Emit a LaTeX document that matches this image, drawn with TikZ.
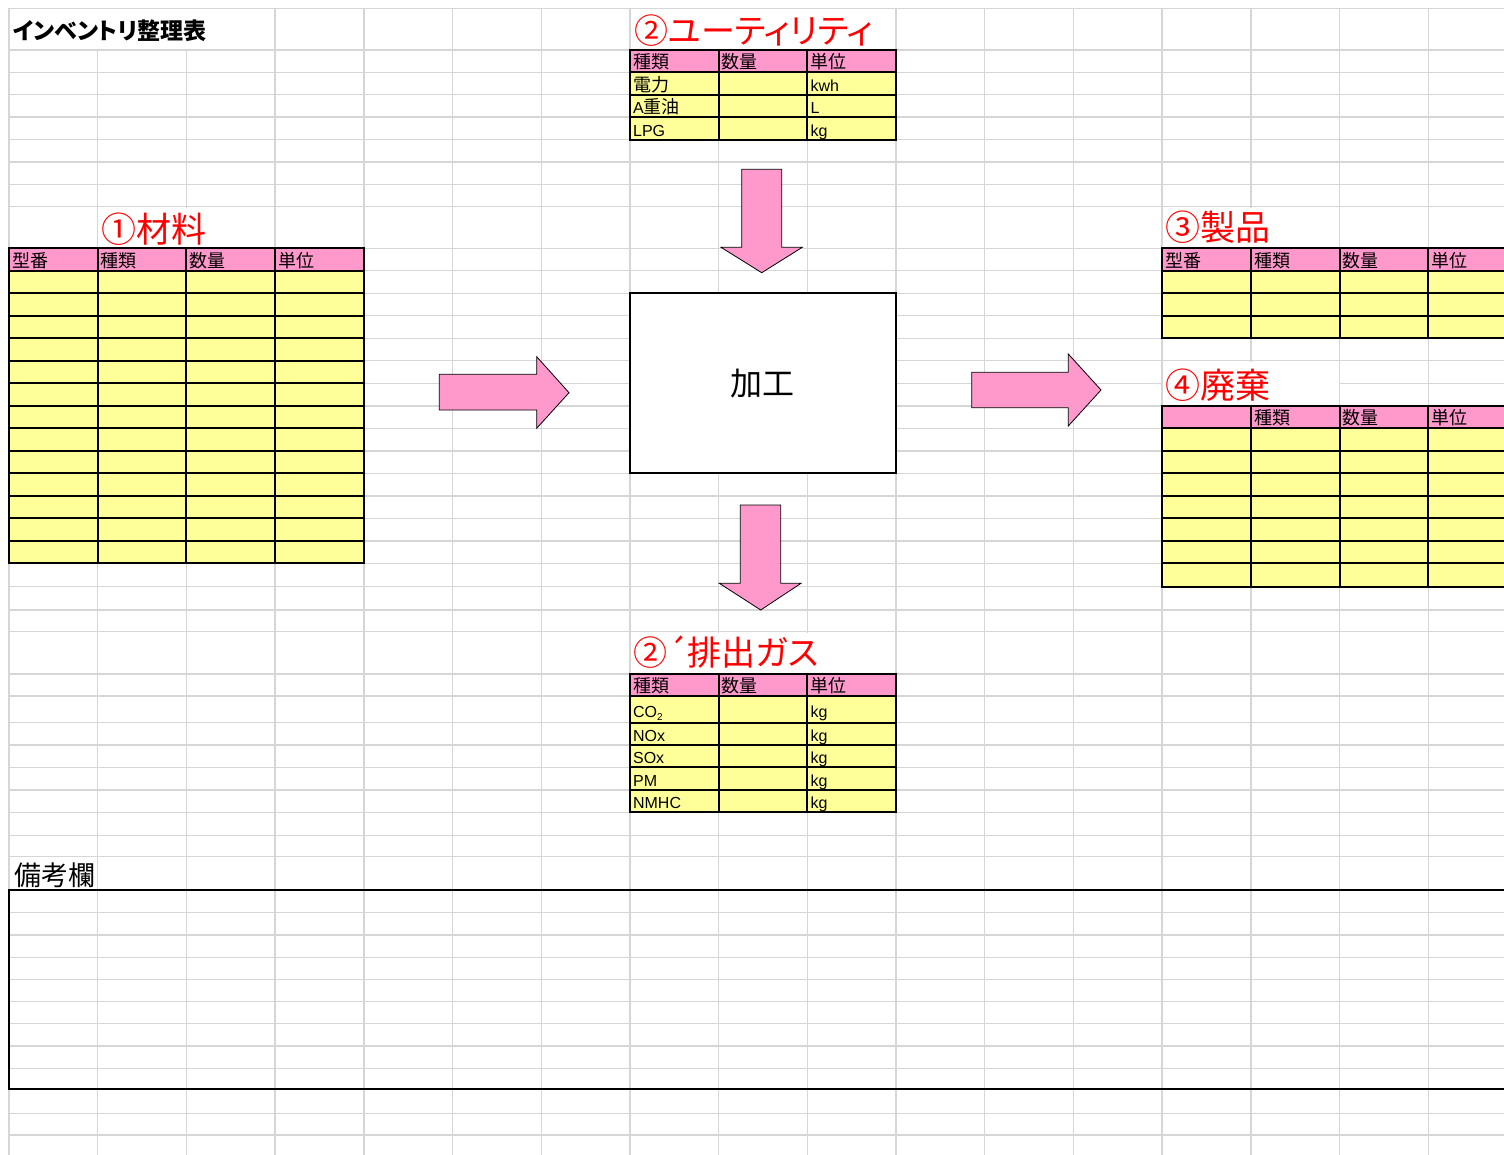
\documentclass[tikz,border=0pt]{standalone}
\usepackage{fontspec}
\setmainfont{Liberation Sans}
\newfontfamily\jp[RawFeature=+palt]{Noto Sans CJK JP}
\newcommand\fsz[1]{\fontsize{#1}{#1}\selectfont}

\definecolor{gridgray}{HTML}{D6D6D6}
\definecolor{hdrpink}{HTML}{FF99CC}
\definecolor{bodyyel}{HTML}{FFFF99}
\definecolor{lblred}{HTML}{FF0000}

\tikzset{
  gridline/.style={draw=gridgray, line width=1.4pt},
  tblline/.style={draw=black, line width=2pt, line cap=rect},
  cell/.style={inner sep=0pt, anchor=base west, font=\fsz{16}},
  hdr/.style={cell, font=\jp\fsz{18}},
  lbl/.style={inner sep=0pt, anchor=base west, text=lblred, font=\jp\fsz{35}},
  blockarrow/.style={fill=hdrpink, draw=black, line width=0.8pt, line join=miter},
  framebox/.style={draw=black, line width=2pt},
}

% white patch over the grid where a label spills across cells
\newcommand\spill[4]{\fill[white] (#1+0.9,#2+0.9) rectangle (#3-0.9,#4-0.9);}

% table: column list, row list, first/last column, first/second/last row
\newcommand\sheettable[7]{%
  \fill[hdrpink] (#3,#5) rectangle (#4,#6);
  \fill[bodyyel] (#3,#6) rectangle (#4,#7);
  \foreach \yy in {#2} \draw[tblline] (#3,\yy) -- (#4,\yy);
  \foreach \xx in {#1} \draw[tblline] (\xx,#5) -- (\xx,#7);
}

\begin{document}
\begin{tikzpicture}[x=1pt, y=-1pt]
\useasboundingbox (0,0) rectangle (1504,1155);
\clip (0,0) rectangle (1504,1155);
\fill[white] (0,0) rectangle (1504,1155);

% ---- worksheet grid ----
\foreach \k in {0,...,17}
  \draw[gridline] ({9+88.7*\k},8.3) -- ({9+88.7*\k},1160);
\foreach \y in {8.3,50,72.5,94.8,117.2,139.6,162,184.3,206.7,
    248.3,270.8,293.3,315.8,338.3,360.8,383.3,405.8,428.3,450.8,473.3,
    495.8,518.3,540.8,563.3,586.7,610,631.7,674,696,722.7,745,767.3,790,
    812.3,835.3,856.7,890,912.7,935,957.3,979.3,1001.7,1023.3,1046,1068.3,
    1089.3,1113.3,1135}
  \draw[gridline] (9,\y) -- (1510,\y);

% cells hidden by overflowing labels
\spill{9}{8.3}{275.1}{50}
\spill{629.9}{8.3}{896}{50}
\spill{97.7}{206.7}{275.1}{248.3}
\spill{1162.1}{206.7}{1339.5}{248.3}
\spill{1162.1}{360.8}{1339.5}{405.8}
\spill{629.9}{631.7}{896}{674}

% ---- title ----
\node[inner sep=0pt, anchor=base west, font=\jp\bfseries\fsz{23}] (title) at (13,40) {インベントリ整理表};

% ---- (1) materials ----
\node[lbl] (matlbl) at (101,242.5) {①材料};
\sheettable{9,97.7,186.4,275.1,363.8}
  {248.3,270.8,293.3,315.8,338.3,360.8,383.3,405.8,428.3,450.8,473.3,495.8,518.3,540.8,563.3}
  {9}{363.8}{248.3}{270.8}{563.3}
\node[hdr] (mat1) at (12,267.3) {型番};
\node[hdr] (mat2) at (100.7,267.3) {種類};
\node[hdr] (mat3) at (189.4,267.3) {数量};
\node[hdr] (mat4) at (278.1,267.3) {単位};

% ---- (2) utilities ----
\node[lbl, font=\jp\fsz{34}] (utllbl) at (634,44) {②ユーティリティ};
\sheettable{629.9,718.6,807.3,896}{50,72.5,94.8,117.2,139.6}
  {629.9}{896}{50}{72.5}{139.6}
\node[hdr] (utl1) at (632.9,69) {種類};
\node[hdr] (utl2) at (721.6,69) {数量};
\node[hdr] (utl3) at (810.3,69) {単位};
\node[hdr] (utla) at (632.9,91.3) {電力};
\node[cell] (utlau) at (810.3,91.3) {kwh};
\node[cell] (utlb) at (632.9,113.7) {A\jp\fsz{18}重油};
\node[cell] (utlbu) at (810.3,113.7) {L};
\node[cell] (utlc) at (632.9,136.1) {LPG};
\node[cell] (utlcu) at (810.3,136.1) {kg};

% ---- processing ----
\node[framebox, fill=white, minimum width=266.1pt, minimum height=180pt,
      inner sep=0pt, font=\jp\fsz{32}] (proc) at (762.95,383.3) {加工};

% ---- block arrows ----
\draw[blockarrow] (741.7,169.3) -- (781.7,169.3) -- (781.7,247.3) -- (802.3,247.3)
  -- (761.7,272.7) -- (721,247.3) -- (741.7,247.3) -- cycle;
\draw[blockarrow] (740.3,505) -- (780.7,505) -- (780.7,583.3) -- (801,583.3)
  -- (760.7,610) -- (719.3,583.3) -- (740.3,583.3) -- cycle;
\draw[blockarrow] (439.3,374.3) -- (536.7,374.3) -- (536.7,356.7) -- (569,392.7)
  -- (536.7,428.3) -- (536.7,410) -- (439.3,410) -- cycle;
\draw[blockarrow] (971.7,372.3) -- (1068.3,372.3) -- (1068.3,354) -- (1101,390)
  -- (1068.3,426) -- (1068.3,407.7) -- (971.7,407.7) -- cycle;

% ---- (3) products ----
\node[lbl] (prdlbl) at (1165,241) {③製品};
\sheettable{1162.1,1250.8,1339.5,1428.2,1516.9}{248.3,270.8,293.3,315.8,338.3}
  {1162.1}{1516.9}{248.3}{270.8}{338.3}
\node[hdr] (prd1) at (1165.1,267.3) {型番};
\node[hdr] (prd2) at (1253.8,267.3) {種類};
\node[hdr] (prd3) at (1342.5,267.3) {数量};
\node[hdr] (prd4) at (1431.2,267.3) {単位};

% ---- (4) waste ----
\node[lbl] (wstlbl) at (1165,398) {④廃棄};
\sheettable{1162.1,1250.8,1339.5,1428.2,1516.9}
  {405.8,428.3,450.8,473.3,495.8,518.3,540.8,563.3,586.7}
  {1162.1}{1516.9}{405.8}{428.3}{586.7}
\node[hdr] (wst2) at (1253.8,424.8) {種類};
\node[hdr] (wst3) at (1342.5,424.8) {数量};
\node[hdr] (wst4) at (1431.2,424.8) {単位};

% ---- (2') exhaust gas ----
\node[lbl, font=\jp\fsz{34}] (gaslbl) at (633,665) {②´排出ガス};
\sheettable{629.9,718.6,807.3,896}{674,696,722.7,745,767.3,790,812.3}
  {629.9}{896}{674}{696}{812.3}
\node[hdr] (gas1) at (632.9,692.5) {種類};
\node[hdr] (gas2) at (721.6,692.5) {数量};
\node[hdr] (gas3) at (810.3,692.5) {単位};
\node[cell] (gasa) at (632.9,717) {CO\raisebox{-3.5pt}{\fsz{10}2}};
\node[cell] (gasau) at (810.3,717) {kg};
\node[cell] (gasb) at (632.9,741.3) {NOx};
\node[cell] (gasbu) at (810.3,741.3) {kg};
\node[cell] (gasc) at (632.9,763.6) {SOx};
\node[cell] (gascu) at (810.3,763.6) {kg};
\node[cell] (gasd) at (632.9,786.3) {PM};
\node[cell] (gasdu) at (810.3,786.3) {kg};
\node[cell] (gase) at (632.9,808.6) {NMHC};
\node[cell] (gaseu) at (810.3,808.6) {kg};

% ---- remarks ----
\node[inner sep=0pt, anchor=base west, font=\jp\fsz{27}] (rmklbl) at (14,885.5) {備考欄};
\draw[framebox] (9,890) rectangle (1520,1089.3);
\end{tikzpicture}
\end{document}
